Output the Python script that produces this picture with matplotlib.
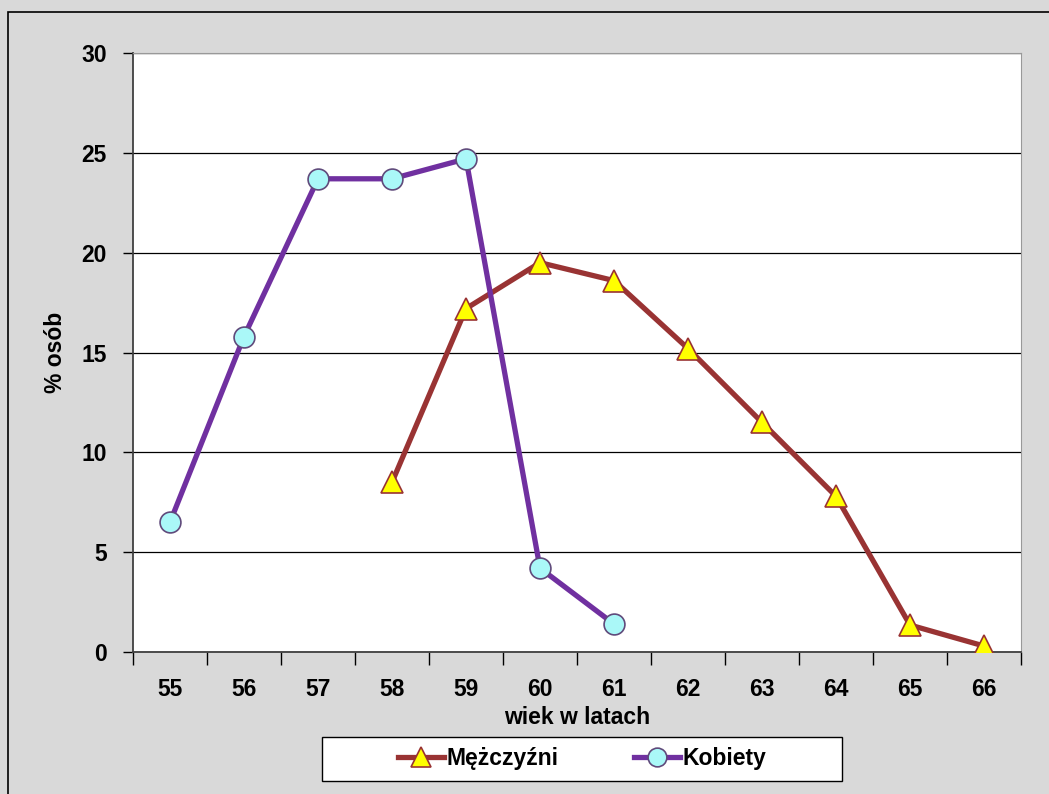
import matplotlib.pyplot as plt
import numpy as np
from matplotlib.patches import Rectangle

plt.rcParams['font.family'] = ['Liberation Sans', 'DejaVu Sans']
plt.rcParams['font.weight'] = 'bold'

ages = [55, 56, 57, 58, 59, 60, 61, 62, 63, 64, 65, 66]
men_ages = [58, 59, 60, 61, 62, 63, 64, 65, 66]
men = [8.5, 17.2, 19.5, 18.6, 15.2, 11.5, 7.8, 1.35, 0.3]
women_ages = [55, 56, 57, 58, 59, 60, 61]
women = [6.5, 15.8, 23.7, 23.7, 24.7, 4.2, 1.4]

W, H = 1049, 794
fig = plt.figure(figsize=(10.49, 7.94), dpi=100, facecolor="#d9d9d9")
ax = fig.add_axes([133 / W, 1 - 652 / H, (1021 - 133) / W, (652 - 53) / H])

# outer chart frame (only top and left visible)
fig.patches.append(Rectangle((8 / W, -0.1), 1.2, (794 - 12) / H + 0.1,
                             transform=fig.transFigure, fill=False,
                             edgecolor="black", linewidth=1.2, zorder=0))
# legend box
fig.patches.append(Rectangle((322 / W, (794 - 781) / H), 520 / W, 44 / H,
                             transform=fig.transFigure, facecolor="white",
                             edgecolor="black", linewidth=1.0, zorder=1))

pos = {a: i for i, a in enumerate(ages)}
mx = [pos[a] for a in men_ages]
wx = [pos[a] for a in women_ages]

ax.plot(mx, men, color="#993333", linewidth=3.8, marker="^",
        markersize=16, markerfacecolor="#ffff00", markeredgecolor="#993333",
        markeredgewidth=1.2, label="Mężczyźni", zorder=3)
ax.plot(wx, women, color="#7030a0", linewidth=3.8, marker="o",
        markersize=15, markerfacecolor="#aaf8f8", markeredgecolor="#604a7b",
        markeredgewidth=1.2, label="Kobiety", zorder=4)

ax.set_xlim(-0.5, len(ages) - 0.5)
ax.set_ylim(0, 30)
ax.set_yticks(np.arange(0, 31, 5))
ax.set_xticks(range(len(ages)))
ax.set_xticklabels([str(a) for a in ages])
ax.set_xticks(np.arange(-0.5, len(ages), 1), minor=True)
ax.tick_params(axis="x", which="major", length=0, labelsize=16.5, pad=19)
ax.tick_params(axis="x", which="minor", length=9, width=1, direction="out")
ax.tick_params(axis="y", length=7, width=1, direction="out", labelsize=16.5, pad=12)
for lab in ax.get_xticklabels() + ax.get_yticklabels():
    lab.set_fontweight("bold")
ax.grid(axis="y", color="black", linewidth=0.9)
ax.set_axisbelow(True)

for s in ["top", "right"]:
    ax.spines[s].set_color("#999999")
for s in ["left", "bottom"]:
    ax.spines[s].set_color("#404040")
    ax.spines[s].set_linewidth(1.3)

ax.set_xlabel("wiek w latach", fontsize=16.5, fontweight="bold", labelpad=3)
ax.set_ylabel("% osób", fontsize=16.5, fontweight="bold", labelpad=10)

leg = fig.legend(loc="center", ncol=2,
                 bbox_to_anchor=(582 / W, (794 - 759) / H),
                 fontsize=16.5, frameon=False,
                 handlelength=2.0, borderaxespad=0, columnspacing=3.3,
                 handletextpad=0.1, markerscale=0.9)
leg.set_zorder(5)
for t in leg.get_texts():
    t.set_fontweight("bold")

fig.savefig("out.png", dpi=100, facecolor=fig.get_facecolor())
